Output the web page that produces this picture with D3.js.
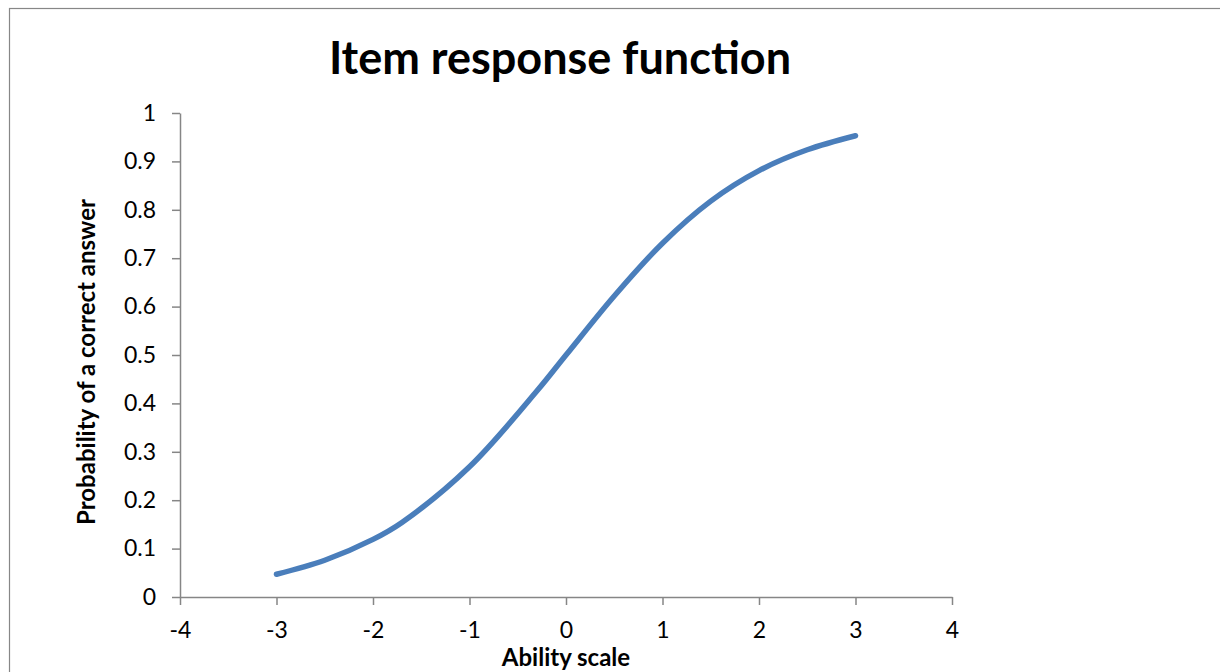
<!DOCTYPE html>
<html><head><meta charset="utf-8">
<script src="https://cdn.jsdelivr.net/npm/d3@7"></script>
<style>body{margin:0;background:#fff}svg{display:block}text{font-family:Lato,"Open Sans",sans-serif}</style>
</head><body><svg id="c" width="1220" height="672"></svg>
<script>
const abilityValues = [-3, -2.5, -2, -1.7, -1, -0.3, 0, 0.5, 1, 1.5, 2, 2.5, 3];
const probabilityValues = [0.047, 0.076, 0.119, 0.154, 0.269, 0.426, 0.5, 0.622, 0.731, 0.818, 0.881, 0.924, 0.953];
const xTicks = [-4, -3, -2, -1, 0, 1, 2, 3, 4];
const yTicks = [0, 0.1, 0.2, 0.3, 0.4, 0.5, 0.6, 0.7, 0.8, 0.9, 1];
const titleText = "Item response function";
const xTitle = "Ability scale";
const yTitle = "Probability of a correct answer";

const svg = d3.select("#c");
svg.append("rect").attr("x", 9.5).attr("y", 8.5).attr("width", 1300).attr("height", 800)
  .attr("fill", "none").attr("stroke", "#878787").attr("stroke-width", 1.2);

const x = d3.scaleLinear().domain([-4, 4]).range([180, 952]);
const y = d3.scaleLinear().domain([0, 1]).range([597, 113]);
const axisColor = "#868686";

const gx = svg.append("g").attr("transform", "translate(0,597)")
  .call(d3.axisBottom(x).tickValues(xTicks).tickSize(8).tickSizeOuter(0).tickFormat(d3.format("d")));
const gy = svg.append("g").attr("transform", "translate(180,0)")
  .call(d3.axisLeft(y).tickValues(yTicks).tickSize(8).tickSizeOuter(0).tickFormat(d => d === 0 || d === 1 ? String(d) : d.toFixed(1)));
[gx, gy].forEach(g => {
  g.selectAll("path,line").attr("stroke", axisColor).attr("stroke-width", 1.5);
  g.selectAll("text").attr("fill", "#000").style("font-size", "23px").style("font-family", "Lato, 'Open Sans', sans-serif");
});
gx.selectAll("text").attr("dy", "1.3em");
gy.selectAll("text").attr("x", -24);
gx.selectAll("text").text(d => d < 0 ? "-" + Math.abs(d) : d);

const pts = abilityValues.map((a, i) => [a, probabilityValues[i]]);
svg.append("path").datum(pts)
  .attr("d", d3.line().x(d => x(d[0])).y(d => y(d[1])).curve(d3.curveCatmullRom.alpha(0.5)))
  .attr("fill", "none").attr("stroke", "#4A7EBB").attr("stroke-width", 5.5).attr("stroke-linecap", "round");

svg.append("text").attr("x", 560).attr("y", 74).attr("text-anchor", "middle")
  .style("font-size", "45px").style("font-weight", "bold").text(titleText);
svg.append("text").attr("x", 566).attr("y", 666).attr("text-anchor", "middle")
  .style("font-size", "24px").style("font-weight", "bold").text(xTitle);
svg.append("text").attr("transform", "translate(95,362) rotate(-90)").attr("text-anchor", "middle")
  .style("font-size", "24px").style("font-weight", "bold").text(yTitle);
</script></body></html>
